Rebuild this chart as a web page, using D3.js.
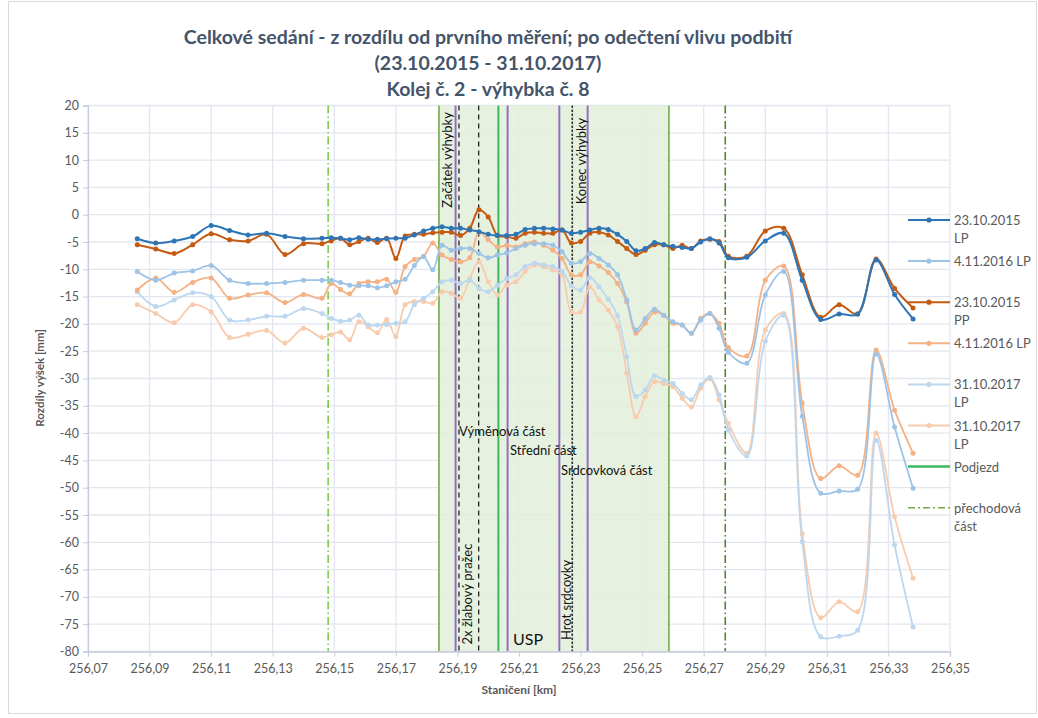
<!DOCTYPE html>
<html>
<head>
<meta charset="utf-8">
<script src="https://cdn.jsdelivr.net/npm/d3@7"></script>
<style>
  body { margin: 0; background: #fff; }
  text { font-family: Lato, "Open Sans", sans-serif; }
</style>
</head>
<body>
<div id="chart"></div>
<script>
var width = 1038,
    height = 718;

// DATA
var stations = [
  256.086, 256.092, 256.098, 256.104, 256.110, 256.116, 256.122, 256.128, 256.134, 256.140, 256.146,
  256.149, 256.152, 256.155, 256.158, 256.161, 256.164, 256.167, 256.170, 256.173, 256.176,
  256.179, 256.182, 256.185, 256.188, 256.191, 256.194, 256.197, 256.200, 256.203, 256.206,
  256.209, 256.212, 256.215, 256.218, 256.221, 256.224, 256.227, 256.230, 256.233, 256.236,
  256.239, 256.242, 256.245, 256.248, 256.251, 256.254, 256.257, 256.260, 256.263, 256.266,
  256.269, 256.272, 256.275, 256.278,
  256.284, 256.290, 256.296, 256.302, 256.308, 256.314, 256.320, 256.326, 256.332, 256.338
];

var lp2015 = [
  -4.4, -5.2, -4.8, -4.0, -2.0, -2.9, -3.7, -3.4, -4.0, -4.4, -4.3,
  -4.2, -4.3, -4.6, -4.2, -4.5, -4.5, -4.4, -4.3, -4.3, -3.7,
  -3.0, -2.5, -2.2, -2.5, -2.5, -2.8, -3.1, -3.6, -3.8, -3.8,
  -3.6, -2.7, -2.5, -2.5, -2.6, -2.8, -3.4, -3.2, -2.8, -2.5,
  -2.7, -3.6, -4.9, -6.6, -6.2, -5.1, -5.5, -5.8, -6.0, -6.2,
  -5.0, -4.4, -5.2, -7.9,
  -7.8, -4.8, -3.4, -12.0, -19.2, -18.2, -18.2, -8.3, -14.6, -19.1
];

var lp2016 = [
  -10.4, -12.0, -10.7, -10.3, -9.3, -12.0, -12.6, -12.6, -12.4, -12.0, -12.0,
  -12.0, -12.4, -12.9, -13.0, -13.0, -13.4, -13.0, -12.3, -11.8, -9.3,
  -7.7, -10.1, -5.6, -6.5, -6.2, -6.2, -7.1, -7.9, -7.4, -7.0,
  -6.2, -5.6, -5.3, -5.3, -5.6, -6.8, -8.9, -8.6, -7.1, -8.0,
  -9.2, -11.0, -15.6, -21.1, -19.0, -17.3, -18.4, -19.6, -20.2, -21.7,
  -19.3, -18.1, -20.8, -25.2,
  -27.2, -14.7, -10.4, -36.9, -51.0, -50.6, -50.3, -25.5, -38.9, -50.1
];

var pp2015 = [
  -5.5, -6.3, -7.1, -5.5, -3.5, -4.6, -4.8, -3.6, -7.3, -5.3, -5.3,
  -4.8, -4.3, -5.5, -4.9, -4.3, -5.1, -4.3, -8.0, -3.9, -3.6,
  -3.6, -3.3, -3.2, -3.2, -3.8, -2.5, 0.9, -0.4, -3.8, -4.0,
  -4.3, -3.4, -3.2, -3.4, -3.4, -2.8, -5.2, -4.9, -3.4, -3.2,
  -3.7, -4.9, -6.2, -7.3, -6.5, -5.5, -5.5, -6.2, -5.6, -6.2,
  -4.8, -4.5, -4.9, -7.6,
  -7.6, -3.0, -2.5, -11.0, -18.8, -16.5, -18.2, -8.1, -13.5, -17.1
];

var lp2016b = [
  -13.8, -11.6, -14.2, -12.4, -11.6, -15.3, -14.7, -14.3, -16.1, -14.6, -15.3,
  -12.6, -13.7, -14.5, -12.6, -12.3, -12.3, -11.8, -14.2, -9.5, -8.2,
  -7.6, -5.2, -7.4, -8.2, -8.6, -7.9, -3.2, -4.6, -5.9, -5.6,
  -5.9, -5.3, -5.0, -5.6, -6.5, -8.0, -11.0, -11.0, -8.6, -9.4,
  -10.6, -12.6, -16.0, -21.7, -19.9, -17.8, -18.4, -19.9, -20.2, -21.7,
  -19.0, -18.1, -19.9, -24.3,
  -25.9, -12.0, -9.4, -34.5, -48.3, -46.0, -47.7, -24.8, -35.8, -43.7
];

var lp2017 = [
  -14.1, -16.8, -15.6, -14.3, -15.0, -19.3, -19.3, -18.6, -18.6, -17.2, -18.1,
  -19.0, -19.5, -19.3, -18.4, -20.2, -20.2, -20.1, -19.9, -19.6, -16.5,
  -15.3, -14.1, -12.3, -12.0, -12.6, -12.0, -13.5, -14.1, -12.9, -11.7,
  -11.0, -9.5, -8.9, -9.2, -9.5, -10.4, -13.0, -13.8, -11.5, -13.2,
  -15.5, -18.5, -26.0, -33.3, -32.1, -29.5, -30.3, -30.9, -32.7, -33.9,
  -31.2, -29.8, -33.0, -39.4,
  -44.2, -23.2, -18.4, -59.9, -77.3, -77.2, -76.1, -41.3, -60.5, -75.5
];

var lp2017b = [
  -16.5, -18.1, -19.8, -16.5, -17.8, -22.5, -21.9, -21.2, -23.5, -20.8, -22.5,
  -22.0, -21.5, -22.9, -19.6, -20.5, -21.6, -19.2, -22.3, -16.5, -15.9,
  -15.9, -16.2, -14.1, -14.4, -15.3, -11.7, -8.6, -12.3, -14.7, -12.9,
  -12.3, -10.4, -9.2, -9.5, -10.1, -11.0, -17.8, -17.8, -13.2, -15.6,
  -17.5, -20.5, -29.0, -37.0, -33.3, -30.6, -30.9, -31.5, -33.6, -35.2,
  -31.8, -30.0, -33.9, -38.2,
  -43.7, -21.1, -18.1, -58.4, -73.8, -70.9, -72.7, -40.0, -55.3, -66.6
];

var seriesNames = ["23.10.2015 LP", "4.11.2016 LP", "23.10.2015 PP", "4.11.2016 LP", "31.10.2017 LP", "31.10.2017 LP"];
var seriesColors = ["#2E75B6", "#9DC3E6", "#C55A11", "#F4B183", "#BDD7EE", "#F8CBAD"];

var xTicks = [256.07, 256.09, 256.11, 256.13, 256.15, 256.17, 256.19, 256.21, 256.23, 256.25, 256.27, 256.29, 256.31, 256.33, 256.35];
var yTicks = [20, 15, 10, 5, 0, -5, -10, -15, -20, -25, -30, -35, -40, -45, -50, -55, -60, -65, -70, -75, -80];

// switch parts
var zone = [256.184, 256.2587];
var purpleLines = [256.1894, 256.2063, 256.2231, 256.2323];
var dashedLines = [256.1905, 256.1969];
var dottedLines = [256.2273];
var podjezd = [256.2033];
var prechod = [256.148, 256.277];

var title = ["Celkové sedání - z rozdílu od prvního měření; po odečtení vlivu podbití",
             "(23.10.2015 - 31.10.2017)",
             "Kolej č. 2 - výhybka č. 8"];

// SCALES
var x = d3.scaleLinear().domain([256.07, 256.35]).range([88, 950]);
var y = d3.scaleLinear().domain([-80, 20]).range([651.5, 105.5]);

var svg = d3.select("#chart").append("svg")
    .attr("width", width)
    .attr("height", height);

// BACKGROUND
svg.append("rect")
    .attr("x", 8.5).attr("y", 1.5)
    .attr("width", 1028).attr("height", 712)
    .attr("fill", "#fff")
    .attr("stroke", "#D9D9D9");

// GRID
svg.append("g").selectAll("line.h")
    .data(yTicks).enter().append("line")
    .attr("x1", x.range()[0]).attr("x2", x.range()[1])
    .attr("y1", function(d) { return y(d); })
    .attr("y2", function(d) { return y(d); })
    .attr("stroke", "#E3E6EE").attr("stroke-width", 1.3);

svg.append("g").selectAll("line.v")
    .data(xTicks).enter().append("line")
    .attr("x1", function(d) { return x(d); })
    .attr("x2", function(d) { return x(d); })
    .attr("y1", y(20)).attr("y2", y(-80))
    .attr("stroke", "#E3E6EE").attr("stroke-width", 1.3);

// SWITCH ZONE
svg.append("rect")
    .attr("x", x(zone[0])).attr("y", y(20))
    .attr("width", x(zone[1]) - x(zone[0]))
    .attr("height", y(-80) - y(20))
    .attr("fill", "#E2EFDA").attr("fill-opacity", 0.85);

function vlines(data, color, w, dash) {
    svg.append("g").selectAll("line")
        .data(data).enter().append("line")
        .attr("x1", function(d) { return x(d); })
        .attr("x2", function(d) { return x(d); })
        .attr("y1", y(20)).attr("y2", y(-80))
        .attr("stroke", color)
        .attr("stroke-width", w)
        .attr("stroke-dasharray", dash);
}

vlines(zone, "#70AD47", 1.6, null);
vlines(podjezd, "#3CB85F", 2, null);
vlines(purpleLines, "#9370BE", 2, null);
vlines(dashedLines, "#222", 1.3, "5,4");
vlines(dottedLines, "#333", 1.6, "2.5,1.5");
vlines([prechod[0]], "#5FBF24", 1.3, "8,3,1.5,3");
vlines([prechod[1]], "#548235", 1.6, "8,3,1.5,3");

// AXES
var yAxis = svg.append("g")
    .attr("transform", "translate(" + x.range()[0] + ",0)")
    .call(d3.axisLeft(y).tickValues(yTicks).tickSize(5).tickFormat(function(d) { return d; }));
var xAxis = svg.append("g")
    .attr("transform", "translate(0," + y(-80) + ")")
    .call(d3.axisBottom(x).tickValues(xTicks).tickSize(5)
        .tickFormat(function(d) { return d3.format(".2f")(d).replace(".", ","); }));

[xAxis, yAxis].forEach(function(a) {
    a.select(".domain").attr("stroke", "#C5CCDA").attr("stroke-width", 1.3);
    a.selectAll(".tick line").attr("stroke", "#C5CCDA");
    a.selectAll(".tick text")
        .attr("fill", "#595959")
        .attr("font-size", 12.5)
        .attr("font-family", "Lato, sans-serif");
});
yAxis.selectAll(".tick text").attr("x", -9);
xAxis.selectAll(".tick text").attr("y", 13);

// SERIES
var allSeries = [lp2015, lp2016, pp2015, lp2016b, lp2017, lp2017b];
var drawOrder = [5, 4, 3, 1, 2, 0];

var line = d3.line()
    .x(function(d, i) { return x(stations[i]); })
    .y(function(d) { return y(d); })
    .curve(d3.curveCatmullRom.alpha(0.5));

drawOrder.forEach(function(k) {
    var g = svg.append("g").attr("class", "series");
    g.append("path")
        .datum(allSeries[k])
        .attr("d", line)
        .attr("fill", "none")
        .attr("stroke", seriesColors[k])
        .attr("stroke-width", k == 0 || k == 2 ? 2 : 1.8);
    g.selectAll("circle")
        .data(allSeries[k]).enter().append("circle")
        .attr("cx", function(d, i) { return x(stations[i]); })
        .attr("cy", function(d) { return y(d); })
        .attr("r", 2.5)
        .attr("fill", seriesColors[k]);
});

// LABELS
function rlabel(txt, xc, yc) {
    svg.append("text")
        .attr("transform", "translate(" + xc + "," + yc + ") rotate(-90)")
        .attr("text-anchor", "middle")
        .attr("font-size", 13)
        .attr("fill", "#111")
        .text(txt);
}
rlabel("Začátek výhybky", 452, 160);
rlabel("Konec výhybky", 586, 161);
rlabel("2x žlabový pražec", 472, 594);
rlabel("Hrot srdcovky", 571, 600);

function hlabel(txt, xs, yb, fs) {
    svg.append("text")
        .attr("x", xs).attr("y", yb)
        .attr("font-size", fs)
        .attr("fill", "#111")
        .text(txt);
}
hlabel("Výměnová část", 459, 436, 13);
hlabel("Střední část", 510, 455, 13);
hlabel("Srdcovková část", 561, 475, 13);
hlabel("USP", 513, 645, 16);

// TITLE
svg.append("g").selectAll("text")
    .data(title).enter().append("text")
    .attr("x", 488)
    .attr("y", function(d, i) { return 44 + i * 26; })
    .attr("text-anchor", "middle")
    .attr("font-size", 19.5)
    .attr("font-weight", "bold")
    .attr("fill", "#44546A")
    .text(function(d) { return d; });

// AXIS TITLES
svg.append("text")
    .attr("transform", "translate(44,378) rotate(-90)")
    .attr("text-anchor", "middle")
    .attr("font-size", 11.5)
    .attr("font-weight", "bold")
    .attr("fill", "#595959")
    .text("Rozdíly výšek [mm]");

svg.append("text")
    .attr("x", 519).attr("y", 694)
    .attr("text-anchor", "middle")
    .attr("font-size", 12)
    .attr("font-weight", "bold")
    .attr("fill", "#595959")
    .text("Staničení [km]");

// LEGEND
var legendItems = [
    {lines: ["23.10.2015", "LP"], color: seriesColors[0], marker: true},
    {lines: ["4.11.2016 LP"], color: seriesColors[1], marker: true},
    {lines: ["23.10.2015", "PP"], color: seriesColors[2], marker: true},
    {lines: ["4.11.2016 LP"], color: seriesColors[3], marker: true},
    {lines: ["31.10.2017", "LP"], color: seriesColors[4], marker: true},
    {lines: ["31.10.2017", "LP"], color: seriesColors[5], marker: true},
    {lines: ["Podjezd"], color: "#3CB85F", marker: false, w: 2.5},
    {lines: ["přechodová", "část"], color: "#70AD47", marker: false, dash: "7,3,2,3", w: 1.6}
];

var legend = svg.append("g").attr("class", "legend");
legendItems.forEach(function(d, i) {
    var ly = 220 + i * 41.1;
    var g = legend.append("g").attr("transform", "translate(0," + ly + ")");
    g.append("line")
        .attr("x1", 908).attr("x2", 950)
        .attr("stroke", d.color)
        .attr("stroke-width", d.w || 2)
        .attr("stroke-dasharray", d.dash || null);
    if (d.marker) {
        g.append("circle").attr("cx", 929).attr("r", 2.6).attr("fill", d.color);
    }
    d.lines.forEach(function(t, j) {
        g.append("text")
            .attr("x", 954).attr("y", 5 + j * 18)
            .attr("font-size", 13)
            .attr("fill", "#595959")
            .text(t);
    });
});
</script>
</body>
</html>
